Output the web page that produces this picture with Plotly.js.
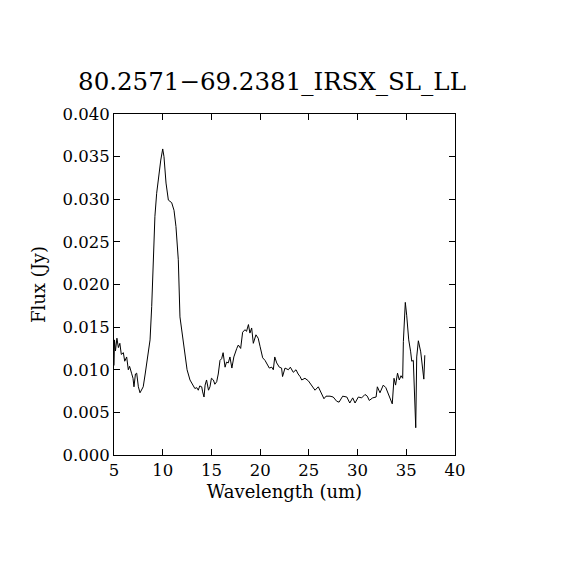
<!DOCTYPE html>
<html>
<head>
<meta charset="utf-8">
<script src="https://cdn.plot.ly/plotly-3.0.1.min.js"></script>
<style>html,body{margin:0;padding:0;background:#fff;}</style>
</head>
<body>
<div id="chart" style="width:570px;height:570px;"></div>
<script>
const titleText = "80.2571\u221269.2381_IRSX_SL_LL";
const xLabel = "Wavelength (um)";
const yLabel = "Flux (Jy)";

const wavelength = [
 5.0, 5.05, 5.15, 5.3, 5.45, 5.6, 5.75, 5.96, 6.1, 6.3, 6.47, 6.6, 6.8, 6.95, 7.05, 7.2, 7.33, 7.5, 7.67, 7.85, 8.0,
 8.2, 8.35, 8.55, 8.7, 8.87, 9.03, 9.2, 9.38, 9.65, 9.8, 10.0, 10.13, 10.34, 10.58, 10.92, 11.16, 11.36, 11.6, 11.77,
 12.1, 12.5, 12.8, 13.05, 13.3, 13.5, 13.65, 13.8, 14.0, 14.1, 14.24, 14.35, 14.5, 14.7, 14.85, 15.0, 15.2, 15.35, 15.54,
 15.7, 15.88, 16.05, 16.2, 16.4, 16.55, 16.73, 16.9, 17.1, 17.3, 17.6, 17.76, 18.0, 18.2, 18.45, 18.6, 18.8, 18.95,
 19.13, 19.3, 19.57, 19.8, 20.0, 20.26, 20.5, 20.67, 20.94, 21.2, 21.35, 21.5, 21.7, 21.97, 22.2, 22.3, 22.55, 22.9,
 23.1, 23.4, 23.68, 23.9, 24.1, 24.27, 24.6, 24.95, 25.3, 25.63, 25.97, 26.25, 26.55, 26.76, 27.17, 27.5, 27.86, 28.1,
 28.47, 28.9, 29.2, 29.5, 29.74, 30.08, 30.42, 30.76, 31.0, 31.2, 31.55, 31.9, 32.03, 32.3, 32.64, 32.9, 33.26, 33.56,
 33.74, 33.9, 34.1, 34.28, 34.46, 34.63, 34.7, 34.9, 35.04, 35.25, 35.45, 35.56, 35.72, 35.86, 35.97, 36.07, 36.24,
 36.48, 36.7, 36.8, 36.9
];
const flux = [
 0.0105, 0.0135, 0.0122, 0.0137, 0.0126, 0.0131, 0.0118, 0.0120, 0.0110, 0.0115, 0.0100, 0.0104, 0.0096, 0.0090, 0.0080, 0.0095, 0.0096, 0.0080, 0.0073, 0.0076, 0.0080,
 0.0095, 0.0108, 0.0120, 0.0135, 0.0174, 0.0240, 0.0280, 0.0307, 0.0334, 0.0346, 0.0359, 0.0350, 0.0319, 0.0299, 0.0296, 0.0287, 0.0268, 0.0229, 0.0162,
 0.0131, 0.0100, 0.0088, 0.0083, 0.0078, 0.0079, 0.0076, 0.0081, 0.0080, 0.0074, 0.0068, 0.0082, 0.0088, 0.0076, 0.0080, 0.0090, 0.0088, 0.0083, 0.0086,
 0.0095, 0.0111, 0.0113, 0.0120, 0.0103, 0.0109, 0.0108, 0.0115, 0.0102, 0.0115, 0.0125, 0.0129, 0.0125, 0.0144, 0.0147, 0.0145, 0.0153, 0.0143,
 0.0149, 0.0131, 0.0141, 0.0137, 0.0127, 0.0114, 0.0111, 0.0108, 0.0102, 0.0103, 0.0100, 0.0115, 0.0108, 0.0103, 0.0102, 0.0092, 0.0102, 0.0100,
 0.0103, 0.0097, 0.0100, 0.0095, 0.0092, 0.0088, 0.0090, 0.0087, 0.0082, 0.0076, 0.0080, 0.0073, 0.0066, 0.0069, 0.0069, 0.0068, 0.0063, 0.0062,
 0.0069, 0.0068, 0.0061, 0.0067, 0.0061, 0.0068, 0.0067, 0.0071, 0.0069, 0.0064, 0.0067, 0.0068, 0.0080, 0.0073, 0.0082, 0.0079, 0.0068, 0.0060,
 0.0090, 0.0082, 0.0096, 0.0088, 0.0093, 0.0090, 0.0133, 0.0179, 0.0164, 0.0135, 0.0121, 0.0110, 0.0111, 0.0053, 0.0032, 0.0115, 0.0134,
 0.0121, 0.0100, 0.0089, 0.0117
];

const xTicks = [5, 10, 15, 20, 25, 30, 35, 40];
const yTicks = [0, 0.005, 0.010, 0.015, 0.020, 0.025, 0.030, 0.035, 0.040];

const serif = "DejaVu Serif, Liberation Serif, serif";

const trace = {
  x: wavelength, y: flux, type: "scatter", mode: "lines",
  line: {color: "#000", width: 1}, hoverinfo: "skip"
};

const axisCommon = {
  showgrid: false, zeroline: false, showline: true, linecolor: "#000", linewidth: 1,
  mirror: "ticks", ticks: "inside", ticklen: 6, tickcolor: "#000", tickwidth: 1,
  tickfont: {family: serif, size: 16.5, color: "#000"}
};

const layout = {
  width: 570, height: 570,
  margin: {l: 114, r: 115, t: 114, b: 115, pad: 0},
  paper_bgcolor: "#fff", plot_bgcolor: "#fff",
  showlegend: false,
  title: {text: titleText, font: {family: serif, size: 24.5, color: "#000"}, x: 272/570, xanchor: "center", y: 1 - 81/570, yanchor: "middle"},
  xaxis: Object.assign({}, axisCommon, {
    range: [5, 40], tickvals: xTicks, ticktext: xTicks.map(String),
    title: {text: xLabel, font: {family: serif, size: 18, color: "#000"}, standoff: 6}
  }),
  yaxis: Object.assign({}, axisCommon, {
    range: [0, 0.04], tickvals: yTicks, ticktext: yTicks.map(v => v.toFixed(3)),
    title: {text: yLabel, font: {family: serif, size: 18, color: "#000"}, standoff: 12}
  })
};

Plotly.newPlot("chart", [trace], layout, {displayModeBar: false, staticPlot: true});
</script>
</body>
</html>
